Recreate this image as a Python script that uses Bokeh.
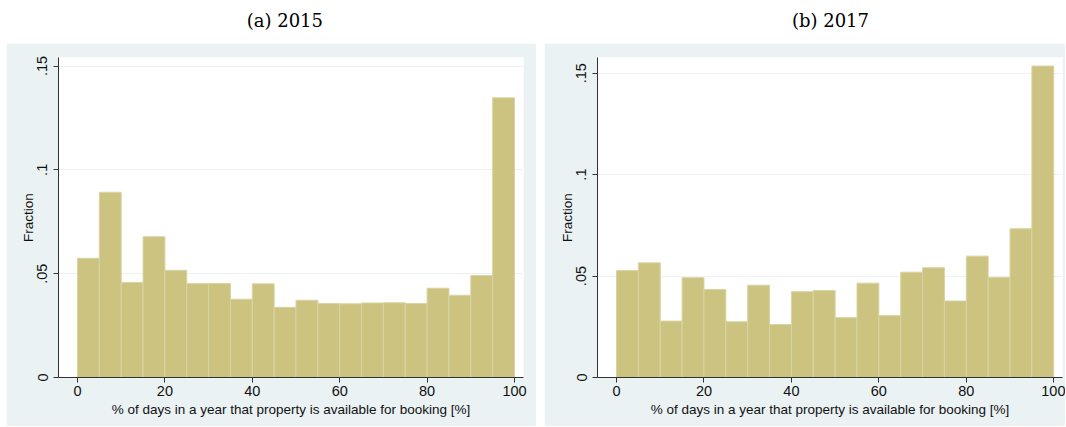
from bokeh.plotting import figure
from bokeh.layouts import row, column
from bokeh.models import Range1d, FixedTicker, CustomJSTickFormatter, Spacer
from bokeh.core.properties import value
from bokeh.embed import file_html
from bokeh.resources import INLINE

# ---- data ----
bin_edges = [0, 5, 10, 15, 20, 25, 30, 35, 40, 45, 50, 55, 60, 65, 70, 75, 80, 85, 90, 95, 100]
frac_2015 = [0.0574, 0.0892, 0.0458, 0.0678, 0.0516, 0.0452, 0.0453, 0.0377, 0.0451, 0.0338,
             0.0372, 0.0356, 0.0355, 0.0359, 0.0360, 0.0356, 0.0430, 0.0396, 0.0491, 0.1347]
frac_2017 = [0.0527, 0.0565, 0.0278, 0.0492, 0.0434, 0.0275, 0.0455, 0.0261, 0.0423, 0.0429,
             0.0295, 0.0465, 0.0305, 0.0519, 0.0541, 0.0377, 0.0598, 0.0493, 0.0733, 0.1535]
x_ticks = [0, 20, 40, 60, 80, 100]
y_ticks = [0, 0.05, 0.1, 0.15]
titles = ["(a) 2015", "(b) 2017"]
x_label = "% of days in a year that property is available for booking [%]"
y_label = "Fraction"

PANEL_BG = "#EAF2F3"
BAR = "#CBC37F"
BAR_EDGE = "#D9D4A4"
AXIS = "#333333"
SANS = "Liberation Sans"
TITLE_H = 43
PANEL_H = 383


def title_fig(w, text, cx):
    t = figure(width=w, height=TITLE_H, x_range=Range1d(0, w), y_range=Range1d(0, TITLE_H),
               toolbar_location=None, output_backend="svg",
               x_axis_location=None, y_axis_location=None, min_border=0,
               outline_line_color=None)
    t.grid.visible = False
    t.text(x=[cx], y=[TITLE_H - 20], text=[text], text_align="center", text_baseline="middle",
           text_font=value("DejaVu Serif"), text_font_size="18px", text_color="black")
    return t


def panel(w, xr, ytop, vals, mbl, mbr):
    p = figure(width=w, height=PANEL_H, x_range=Range1d(*xr), y_range=Range1d(0, ytop),
               toolbar_location=None, output_backend="svg",
               min_border_left=mbl, min_border_right=mbr, min_border_top=14,
               min_border_bottom=PANEL_H - 14 - 320)
    p.border_fill_color = PANEL_BG
    p.background_fill_color = "white"
    p.outline_line_color = None
    p.quad(left=bin_edges[:-1], right=bin_edges[1:], bottom=0, top=vals,
           fill_color=BAR, line_color=BAR_EDGE, line_width=1)
    p.xgrid.visible = False
    p.ygrid.ticker = FixedTicker(ticks=y_ticks)
    p.ygrid.grid_line_color = PANEL_BG
    p.ygrid.grid_line_width = 1
    p.xaxis.ticker = FixedTicker(ticks=x_ticks)
    p.yaxis.ticker = FixedTicker(ticks=y_ticks)
    p.yaxis.formatter = CustomJSTickFormatter(
        code="return tick == 0 ? '0' : String(Number(tick.toFixed(2))).replace(/^0/, '');")
    for ax in (p.xaxis, p.yaxis):
        ax.axis_line_color = AXIS
        ax.major_tick_line_color = AXIS
        ax.minor_tick_line_color = None
        ax.major_tick_out = 5
        ax.major_tick_in = 0
        ax.major_label_text_font = SANS
        ax.major_label_text_font_size = "14.5px"
        ax.major_label_text_color = "#111111"
        ax.axis_label_text_font = SANS
        ax.axis_label_text_font_size = "13.5px"
        ax.axis_label_text_font_style = "normal"
        ax.axis_label_text_color = "#111111"
    p.xaxis.major_label_standoff = 3
    p.xaxis.axis_label = x_label
    p.xaxis.axis_label_standoff = 3
    p.yaxis.axis_label = y_label
    p.yaxis.major_label_orientation = "vertical"
    p.yaxis.major_label_standoff = 6
    p.yaxis.axis_label_standoff = -1
    return p


left = panel(530, (-4.35, 102.06), 0.1541, frac_2015, 52, 13)
right = panel(521, (-4.355, 102.0), 0.1577, frac_2017, 53, 3)
t1 = title_fig(530, titles[0], 264 - 6)
t2 = title_fig(521, titles[1], 805 - 544)

layout = row(Spacer(width=6), column(t1, left), Spacer(width=8), column(t2, right))
open("out.html", "w").write(file_html(layout, INLINE))
